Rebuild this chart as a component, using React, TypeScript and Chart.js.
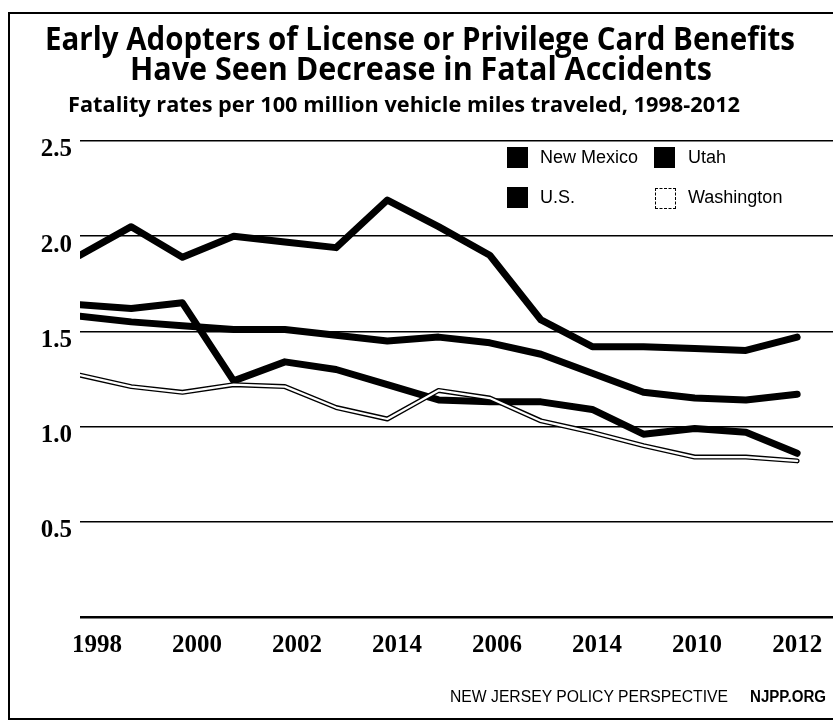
import React, { useEffect, useLayoutEffect, useRef } from 'react';
import { Chart, registerables } from 'chart.js';

Chart.register(...registerables);

// ---- Data ----
const years = ['1998', '1999', '2000', '2001', '2002', '2003', '2004', '2005', '2006', '2007', '2008', '2009', '2010', '2011', '2012'];
const newMexico = [1.90, 2.05, 1.89, 2.00, 1.97, 1.94, 2.19, 2.05, 1.90, 1.56, 1.42, 1.42, 1.41, 1.40, 1.47];
const utah = [1.64, 1.62, 1.65, 1.24, 1.34, 1.30, 1.22, 1.14, 1.13, 1.13, 1.09, 0.96, 0.99, 0.97, 0.86];
const usa = [1.58, 1.55, 1.53, 1.51, 1.51, 1.48, 1.45, 1.47, 1.44, 1.38, 1.28, 1.18, 1.15, 1.14, 1.17];
const washington = [1.27, 1.21, 1.18, 1.22, 1.21, 1.10, 1.04, 1.19, 1.15, 1.03, 0.97, 0.90, 0.84, 0.84, 0.82];
const xTickLabels = ['1998', '2000', '2002', '2014', '2006', '2014', '2010', '2012'];
const yTickLabels = ['', '0.5', '1.0', '1.5', '2.0', '2.5'];
const legendItems = ['New Mexico', 'Utah', 'U.S.', 'Washington'];

const toPoints = (arr: number[]) => arr.map((v, i) => ({ x: i, y: v, year: years[i] }));

type FitProps = {
  text: string;
  x: number;
  top: number;
  width: number;
  size: number;
  family: string;
  weight?: number | string;
};

function FitText({ text, x, top, width, size, family, weight = 400 }: FitProps) {
  const ref = useRef<HTMLDivElement>(null);
  useLayoutEffect(() => {
    const el = ref.current;
    if (!el) return;
    el.style.transform = 'none';
    const w = el.getBoundingClientRect().width;
    if (w > 0) el.style.transform = `scaleX(${width / w})`;
  }, [text, width, size, family, weight]);
  return (
    <div
      ref={ref}
      style={{
        position: 'absolute',
        left: x,
        top,
        whiteSpace: 'nowrap',
        transformOrigin: 'left top',
        fontSize: size,
        lineHeight: `${size}px`,
        fontFamily: family,
        fontWeight: weight as any,
        color: '#000',
      }}
    >
      {text}
    </div>
  );
}

export default function App() {
  const canvasRef = useRef<HTMLCanvasElement>(null);

  useEffect(() => {
    const canvas = canvasRef.current;
    if (!canvas) return;
    const tickFont = { family: '"Liberation Serif", "Times New Roman", serif', size: 25, weight: 'bold' as const };
    const line = (label: string, values: number[], color: string, width: number) => ({
      label,
      data: toPoints(values),
      borderColor: color,
      borderWidth: width,
      pointRadius: 0,
      borderJoinStyle: 'round' as const,
      borderCapStyle: 'round' as const,
      tension: 0,
    });
    const chart = new Chart(canvas, {
      type: 'line',
      data: {
        datasets: [
          line('Washington', washington, '#ffffff', 2.2),
          line('Washington outline', washington, '#000000', 5),
          line('Utah', utah, '#000000', 7),
          line('U.S.', usa, '#000000', 7),
          line('New Mexico', newMexico, '#000000', 7),
        ],
      },
      options: {
        animation: false,
        responsive: false,
        devicePixelRatio: 1,
        layout: { padding: { top: 141, bottom: 68, left: 0, right: 0 } },
        plugins: {
          legend: { display: false },
          tooltip: { enabled: false },
          title: { display: false },
        },
        scales: {
          x: {
            type: 'linear',
            min: 0,
            max: 14.7,
            grid: { display: false },
            border: { display: false },
            afterBuildTicks: (s: any) => {
              s.ticks = xTickLabels.map((_, i) => ({ value: 0.33 + (i * 13.67) / 7 }));
            },
            afterFit: (s: any) => {
              s.height = 40;
              s.paddingLeft = 0;
              s.paddingRight = 0;
            },
            ticks: {
              autoSkip: false,
              maxRotation: 0,
              minRotation: 0,
              padding: 6,
              color: '#000',
              font: tickFont,
              callback: (_v: any, i: number) => xTickLabels[i],
            },
          },
          y: {
            type: 'linear',
            min: 0,
            max: 2.5,
            border: { display: false },
            grid: {
              color: '#000',
              drawTicks: false,
              lineWidth: (ctx: any) => (ctx.tick && ctx.tick.value === 0 ? 2.5 : 1.5),
            },
            afterBuildTicks: (s: any) => {
              s.ticks = yTickLabels.map((_, i) => ({ value: i * 0.5 }));
            },
            afterFit: (s: any) => {
              s.width = 80;
              s.paddingTop = 0;
              s.paddingBottom = 0;
            },
            ticks: {
              padding: 8,
              labelOffset: 9,
              color: '#000',
              font: tickFont,
              callback: (_v: any, i: number) => yTickLabels[i],
            },
          },
        },
      },
    });
    return () => chart.destroy();
  }, []);

  const titleFamily = '"Open Sans", "Noto Sans", sans-serif';
  const sansFamily = '"Liberation Sans", Arial, sans-serif';

  const legendText = (t: string, left: number, top: number) => (
    <div
      style={{
        position: 'absolute',
        left,
        top,
        fontFamily: sansFamily,
        fontSize: 18,
        lineHeight: '18px',
        whiteSpace: 'nowrap',
        color: '#000',
      }}
    >
      {t}
    </div>
  );

  const box = (left: number, top: number, dashed: boolean) => (
    <div
      style={{
        position: 'absolute',
        left,
        top,
        width: dashed ? 19 : 21,
        height: dashed ? 19 : 21,
        background: dashed ? '#fff' : '#000',
        border: dashed ? '1px dashed #000' : 'none',
      }}
    />
  );

  return (
    <div
      style={{
        position: 'absolute',
        left: 0,
        top: 0,
        width: 833,
        height: 725,
        overflow: 'hidden',
        background: '#fff',
      }}
    >
      <div
        style={{
          position: 'absolute',
          left: 8,
          top: 12,
          width: 900,
          height: 704,
          borderLeft: '2px solid #000',
          borderTop: '2px solid #000',
          borderBottom: '2px solid #000',
        }}
      />
      <canvas
        ref={canvasRef}
        width={833}
        height={725}
        style={{ position: 'absolute', left: 0, top: 0, width: 833, height: 725 }}
      />
      <FitText text="Early Adopters of License or Privilege Card Benefits" x={45} top={22} width={750} size={32} family={titleFamily} weight={700} />
      <FitText text="Have Seen Decrease in Fatal Accidents" x={130} top={52} width={582} size={32} family={titleFamily} weight={700} />
      <FitText text="Fatality rates per 100 million vehicle miles traveled, 1998-2012" x={68} top={94} width={672} size={21} family={titleFamily} weight={700} />

      {box(507, 147, false)}
      {legendText(legendItems[0], 540, 148)}
      {box(654, 147, false)}
      {legendText(legendItems[1], 688, 148)}
      {box(507, 187, false)}
      {legendText(legendItems[2], 540, 188)}
      {box(655, 188, true)}
      {legendText(legendItems[3], 688, 188)}

      <FitText text="NEW JERSEY POLICY PERSPECTIVE" x={450} top={689} width={278} size={16} family={sansFamily} weight={400} />
      <FitText text="NJPP.ORG" x={750} top={689} width={76} size={16} family={sansFamily} weight={700} />
    </div>
  );
}
